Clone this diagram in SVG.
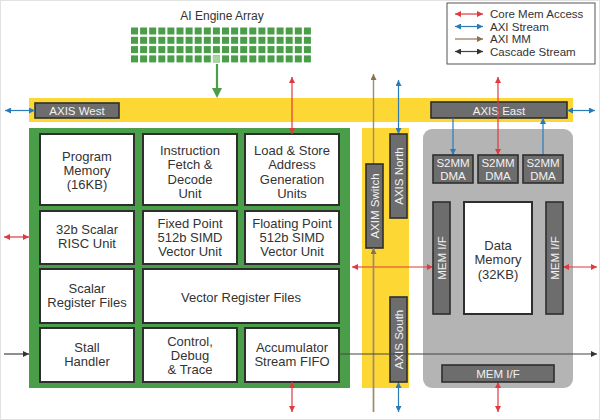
<svg xmlns="http://www.w3.org/2000/svg" width="600" height="420" viewBox="0 0 600 420">
<style>
text{font-family:"Liberation Sans",Arial,sans-serif;text-anchor:middle;}
.cell{fill:#fff;stroke:#2e2e2e;stroke-width:2;}
.ct{font-size:13px;fill:#333;}
.dk{fill:#6d6d6d;stroke:#2e2e2e;stroke-width:1.6;}
.dt{font-size:11.5px;fill:#f2f2f2;}
.yl{fill:#fdd835;}
.red{stroke:#e0393e;stroke-width:1.2;fill:none;}
.blue{stroke:#2a7ab8;stroke-width:1.2;fill:none;}
.brown{stroke:#a08a70;stroke-width:1.4;fill:none;}
.blk{stroke:#444;stroke-width:1.2;fill:none;}
.lg{font-size:11.5px;fill:#333;text-anchor:start;}
.sq{fill:#4a9e4a;}
</style>
<defs>
<marker id="mr" viewBox="0 0 10 10" refX="10" refY="5" markerWidth="7" markerHeight="6" markerUnits="userSpaceOnUse" orient="auto-start-reverse"><path d="M0,0L10,5L0,10z" fill="#e0393e"/></marker>
<marker id="mb" viewBox="0 0 10 10" refX="10" refY="5" markerWidth="7" markerHeight="6" markerUnits="userSpaceOnUse" orient="auto-start-reverse"><path d="M0,0L10,5L0,10z" fill="#2a7ab8"/></marker>
<marker id="mn" viewBox="0 0 10 10" refX="10" refY="5" markerWidth="7" markerHeight="6" markerUnits="userSpaceOnUse" orient="auto-start-reverse"><path d="M0,0L10,5L0,10z" fill="#8b6f50"/></marker>
<marker id="mk" viewBox="0 0 10 10" refX="10" refY="5" markerWidth="7" markerHeight="6" markerUnits="userSpaceOnUse" orient="auto-start-reverse"><path d="M0,0L10,5L0,10z" fill="#333"/></marker>
<g id="row">
<rect class="sq" x="131" y="0" width="7" height="7"/><rect class="sq" x="140.1" y="0" width="7" height="7"/><rect class="sq" x="149.2" y="0" width="7" height="7"/><rect class="sq" x="158.3" y="0" width="7" height="7"/><rect class="sq" x="167.4" y="0" width="7" height="7"/><rect class="sq" x="176.5" y="0" width="7" height="7"/><rect class="sq" x="185.6" y="0" width="7" height="7"/><rect class="sq" x="194.7" y="0" width="7" height="7"/><rect class="sq" x="203.8" y="0" width="7" height="7"/><rect class="sq" x="212.9" y="0" width="7" height="7"/><rect class="sq" x="222" y="0" width="7" height="7"/><rect class="sq" x="231.1" y="0" width="7" height="7"/><rect class="sq" x="240.2" y="0" width="7" height="7"/><rect class="sq" x="249.3" y="0" width="7" height="7"/><rect class="sq" x="258.4" y="0" width="7" height="7"/><rect class="sq" x="267.5" y="0" width="7" height="7"/><rect class="sq" x="276.6" y="0" width="7" height="7"/><rect class="sq" x="285.7" y="0" width="7" height="7"/><rect class="sq" x="294.8" y="0" width="7" height="7"/><rect class="sq" x="303.9" y="0" width="7" height="7"/>
</g>
</defs>
<rect x="0.5" y="0.5" width="599" height="419" fill="#fff" stroke="#e2e2e2"/>

<g id="ai-engine-array">
<text x="222" y="20" style="font-size:12px;fill:#333">AI Engine Array</text>
<use href="#row" y="27.5"/>
<use href="#row" y="36.8"/>
<use href="#row" y="46.1"/>
<use href="#row" y="55.4"/>
<rect x="212.9" y="55.4" width="7" height="7" fill="#a9d3a0"/>
</g>

<g id="axis-bus">
<rect class="yl" x="29" y="98" width="544" height="24"/>
</g>
<g id="axis-west"><rect class="dk" x="35" y="103" width="84" height="15"/><text class="dt" x="77" y="114.5">AXIS West</text></g>
<g id="axis-east"><rect class="dk" x="431" y="102" width="136" height="16"/><text class="dt" x="499" y="114.5">AXIS East</text></g>

<g id="core">
<rect x="29" y="128" width="321" height="260" fill="#4a9e4a"/>
</g>
<g id="program-memory"><rect class="cell" x="40" y="134" width="94" height="71"/><text class="ct" x="87" y="160.5">Program</text><text class="ct" x="87" y="174.5">Memory</text><text class="ct" x="87" y="188.5">(16KB)</text></g>
<g id="instruction-fetch"><rect class="cell" x="143" y="134" width="94" height="71"/><text class="ct" x="190" y="154.5">Instruction</text><text class="ct" x="190" y="169">Fetch &amp;</text><text class="ct" x="190" y="183.5">Decode</text><text class="ct" x="190" y="198">Unit</text></g>
<g id="load-store"><rect class="cell" x="245" y="134" width="94" height="71"/><text class="ct" x="292" y="154.5">Load &amp; Store</text><text class="ct" x="292" y="169">Address</text><text class="ct" x="292" y="183.5">Generation</text><text class="ct" x="292" y="198">Units</text></g>
<g id="scalar-risc"><rect class="cell" x="40" y="211" width="94" height="53"/><text class="ct" x="87" y="233.5">32b Scalar</text><text class="ct" x="87" y="247.5">RISC Unit</text></g>
<g id="fixed-point"><rect class="cell" x="143" y="211" width="94" height="53"/><text class="ct" x="190" y="227.5">Fixed Point</text><text class="ct" x="190" y="241.5">512b SIMD</text><text class="ct" x="190" y="256">Vector Unit</text></g>
<g id="floating-point"><rect class="cell" x="245" y="211" width="94" height="53"/><text class="ct" x="292" y="227.5">Floating Point</text><text class="ct" x="292" y="241.5">512b SIMD</text><text class="ct" x="292" y="256">Vector Unit</text></g>
<g id="scalar-register"><rect class="cell" x="40" y="269" width="94" height="54"/><text class="ct" x="87" y="292.5">Scalar</text><text class="ct" x="87" y="306.5">Register Files</text></g>
<g id="vector-register"><rect class="cell" x="143" y="269" width="196" height="54"/><text class="ct" x="241" y="301.5">Vector Register Files</text></g>
<g id="stall-handler"><rect class="cell" x="40" y="328" width="94" height="54"/><text class="ct" x="87" y="351.5">Stall</text><text class="ct" x="87" y="366">Handler</text></g>
<g id="control-debug"><rect class="cell" x="143" y="328" width="94" height="54"/><text class="ct" x="190" y="345.5">Control,</text><text class="ct" x="190" y="359.5">Debug</text><text class="ct" x="190" y="373.5">&amp; Trace</text></g>
<g id="accumulator"><rect class="cell" x="245" y="328" width="94" height="54"/><text class="ct" x="292" y="351.5">Accumulator</text><text class="ct" x="292" y="366">Stream FIFO</text></g>

<g id="switch">
<rect class="yl" x="362" y="128" width="47" height="260"/>
</g>
<g id="memory">
<rect x="423" y="129" width="150" height="259" rx="9" fill="#b4b4b4"/>
</g>

<g id="connectors">
<line x1="217" y1="64" x2="217" y2="89" stroke="#4a9e4a" stroke-width="2.2"/>
<path d="M212,88L222,88L217,98z" fill="#4a9e4a"/>
<line class="blue" x1="5" y1="110.5" x2="35" y2="110.5" marker-start="url(#mb)" marker-end="url(#mb)"/>
<line class="blue" x1="567" y1="110.5" x2="595" y2="110.5" marker-start="url(#mb)" marker-end="url(#mb)"/>
<line class="red" x1="292" y1="77" x2="292" y2="134" marker-start="url(#mr)" marker-end="url(#mr)"/>
<line class="red" x1="498" y1="77" x2="498" y2="155" marker-start="url(#mr)" marker-end="url(#mr)"/>
<line class="blue" x1="453" y1="118" x2="453" y2="155" marker-end="url(#mb)"/>
<line class="blue" x1="543" y1="155" x2="543" y2="118" marker-end="url(#mb)"/>
<line class="brown" x1="373.5" y1="412" x2="373.5" y2="74" marker-end="url(#mn)"/>
<line class="blue" x1="398.5" y1="80" x2="398.5" y2="134" marker-start="url(#mb)" marker-end="url(#mb)"/>
<line class="blue" x1="398.5" y1="382" x2="398.5" y2="412" marker-start="url(#mb)" marker-end="url(#mb)"/>
<line class="red" x1="4" y1="237" x2="29" y2="237" marker-start="url(#mr)" marker-end="url(#mr)"/>
<line class="red" x1="352" y1="267" x2="433" y2="267" marker-start="url(#mr)" marker-end="url(#mr)"/>
<line class="red" x1="563" y1="267" x2="597" y2="267" marker-start="url(#mr)" marker-end="url(#mr)"/>
<line class="red" x1="292" y1="382" x2="292" y2="412" marker-start="url(#mr)" marker-end="url(#mr)"/>
<line class="red" x1="498" y1="382" x2="498" y2="412" marker-start="url(#mr)" marker-end="url(#mr)"/>
<line class="blk" x1="4" y1="354" x2="29" y2="354" marker-end="url(#mk)"/>
</g>

<g id="axim-switch"><rect class="dk" x="366" y="164" width="17" height="84"/><text class="dt" transform="translate(378.5,206) rotate(-90)">AXIM Switch</text></g>
<line class="brown" x1="373.5" y1="412" x2="373.5" y2="248" marker-end="url(#mn)"/>
<g id="axis-north"><rect class="dk" x="390" y="134" width="17" height="84"/><text class="dt" transform="translate(402.5,176) rotate(-90)">AXIS North</text></g>
<g id="axis-south"><rect class="dk" x="390" y="297" width="17" height="85"/><text class="dt" transform="translate(402.5,339.5) rotate(-90)">AXIS South</text></g>
<g id="dma-1"><rect class="dk" x="433" y="155" width="40" height="28"/><text class="dt" x="453" y="167">S2MM</text><text class="dt" x="453" y="180">DMA</text></g>
<g id="dma-2"><rect class="dk" x="478" y="155" width="40" height="28"/><text class="dt" x="498" y="167">S2MM</text><text class="dt" x="498" y="180">DMA</text></g>
<g id="dma-3"><rect class="dk" x="523" y="155" width="40" height="28"/><text class="dt" x="543" y="167">S2MM</text><text class="dt" x="543" y="180">DMA</text></g>
<g id="mem-if-left"><rect class="dk" x="433" y="202" width="17" height="112"/><text class="dt" transform="translate(445.5,258) rotate(-90)">MEM I/F</text></g>
<g id="data-memory"><rect class="cell" x="464" y="202" width="68" height="112"/><text class="ct" x="498" y="249.5">Data</text><text class="ct" x="498" y="264">Memory</text><text class="ct" x="498" y="278.5">(32KB)</text></g>
<g id="mem-if-right"><rect class="dk" x="546" y="202" width="17" height="112"/><text class="dt" transform="translate(558.5,258) rotate(-90)">MEM I/F</text></g>
<g id="mem-if-bottom"><rect class="dk" x="442" y="365" width="112" height="17"/><text class="dt" x="498" y="377.5">MEM I/F</text></g>
<line class="blk" x1="339" y1="354" x2="597" y2="354" marker-end="url(#mk)"/>

<g id="legend">
<rect x="447" y="3" width="148" height="61" fill="#fff" stroke="#555" stroke-width="1"/>
<line class="red" x1="455" y1="14" x2="483" y2="14" marker-start="url(#mr)" marker-end="url(#mr)"/>
<text class="lg" x="490" y="18">Core Mem Access</text>
<line class="blue" x1="455" y1="26.5" x2="483" y2="26.5" marker-start="url(#mb)" marker-end="url(#mb)"/>
<text class="lg" x="490" y="30.5">AXI Stream</text>
<line class="brown" x1="455" y1="39" x2="483" y2="39" marker-end="url(#mn)"/>
<text class="lg" x="490" y="43">AXI MM</text>
<line class="blk" x1="455" y1="51.5" x2="483" y2="51.5" marker-start="url(#mk)" marker-end="url(#mk)"/>
<text class="lg" x="490" y="55.5">Cascade Stream</text>
</g>
</svg>
